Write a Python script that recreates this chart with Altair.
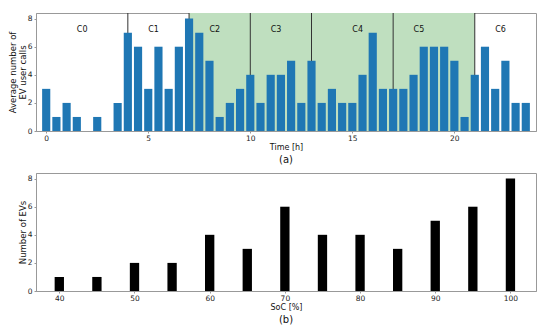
import altair as alt
import pandas as pd

# ---- data (a) ----
hours = [i * 0.5 for i in range(48)]
calls = [3, 1, 2, 1, 0, 1, 0, 2, 7, 6, 3, 6, 3, 6, 8, 7, 5, 1, 2, 3, 4, 2, 4, 4,
         5, 2, 5, 2, 3, 2, 2, 4, 7, 3, 3, 3, 4, 6, 6, 6, 5, 1, 4, 6, 3, 5, 2, 2]
boundaries = [4, 7, 10, 13, 17, 21]
cluster_names = ["C0", "C1", "C2", "C3", "C4", "C5", "C6"]
cluster_label_x = [1.5, 5, 8, 11, 15, 18, 22]
shade_start = [7]
shade_end = [21]

# ---- data (b) ----
soc = [40, 45, 50, 55, 60, 65, 70, 75, 80, 85, 90, 95, 100]
n_evs = [1, 1, 2, 2, 4, 3, 6, 4, 4, 3, 5, 6, 8]

FONT = "DejaVu Sans"
W, H = 500, 118

df_a = pd.DataFrame({"t": hours, "v": calls})
df_b = pd.DataFrame({"s": soc, "n": n_evs})
df_bd = pd.DataFrame({"x": boundaries})
df_lab = pd.DataFrame({"x": cluster_label_x, "name": cluster_names})
df_sh = pd.DataFrame({"a": shade_start, "b": shade_end})

xa = alt.Scale(domain=[-0.5, 24.0], nice=False, zero=False)
ya = alt.Scale(domain=[0, 8.4], nice=False)

shade = alt.Chart(df_sh).mark_rect(color="#bfdfbf").encode(
    x=alt.X("a:Q", scale=xa), x2="b:Q", y=alt.value(0), y2=alt.value(H))
rules = alt.Chart(df_bd).mark_rule(color="#333333", strokeWidth=1).encode(
    x=alt.X("x:Q", scale=xa), y=alt.value(0), y2=alt.value(H))
bars_a = alt.Chart(df_a).transform_calculate(
    x0="datum.t - 0.2", x1="datum.t + 0.2").mark_bar(color="#1f77b4").encode(
    x=alt.X("x0:Q", scale=xa,
            axis=alt.Axis(values=[0, 5, 10, 15, 20], title="Time [h]")),
    x2="x1:Q",
    y=alt.Y("v:Q", scale=ya,
            axis=alt.Axis(values=[0, 2, 4, 6, 8],
                          title=["Average number of", "EV user calls"])),
    y2=alt.datum(0))
labels = alt.Chart(df_lab).mark_text(align="left", baseline="middle",
                                     font=FONT, fontSize=8, color="#111111").encode(
    x=alt.X("x:Q", scale=xa), y=alt.value(H - 7.2 / 8.4 * H), text="name:N")

top = alt.layer(shade, rules, bars_a, labels).properties(
    width=W, height=H,
    title=alt.TitleParams("(a)", orient="bottom", fontSize=10, font=FONT,
                          fontWeight="normal", offset=3, color="#111111"))

xb = alt.Scale(domain=[36.9, 103.4], nice=False, zero=False)
bars_b = alt.Chart(df_b).transform_calculate(
    x0="datum.s - 0.62", x1="datum.s + 0.62").mark_bar(color="black").encode(
    x=alt.X("x0:Q", scale=xb,
            axis=alt.Axis(values=[40, 50, 60, 70, 80, 90, 100], title="SoC [%]")),
    x2="x1:Q",
    y=alt.Y("n:Q", scale=ya,
            axis=alt.Axis(values=[0, 2, 4, 6, 8], title="Number of EVs")),
    y2=alt.datum(0))
bottom = bars_b.properties(
    width=W, height=H,
    title=alt.TitleParams("(b)", orient="bottom", fontSize=10, font=FONT,
                          fontWeight="normal", offset=3, color="#111111"))

chart = alt.vconcat(top, bottom, spacing=7).properties(
    padding={"left": -1, "top": 4, "right": 5, "bottom": 2}
).configure_view(stroke="#999999", strokeWidth=1).configure_axis(
    grid=False, domainColor="#999999", tickColor="#999999", tickSize=2,
    labelFont=FONT, labelFontSize=7.5, labelColor="#222222", labelPadding=1,
    titleFont=FONT, titleFontWeight="normal", titleColor="#111111",
    titleFontSize=8, titlePadding=2
).configure_axisY(titleFontSize=8.5, titlePadding=0, labelPadding=2,
                  titleLineHeight=10)

chart.save("out.html", embed_options={"renderer": "svg", "actions": False})
